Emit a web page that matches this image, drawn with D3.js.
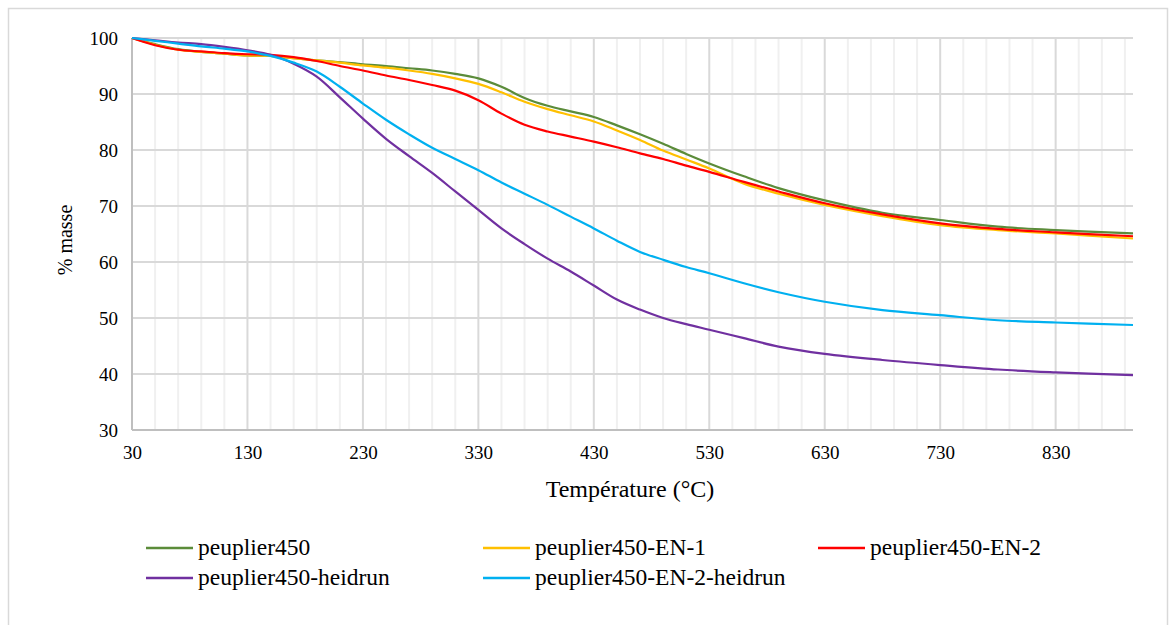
<!DOCTYPE html>
<html><head><meta charset="utf-8">
<script src="https://cdn.jsdelivr.net/npm/d3@7"></script>
<style>body{margin:0;background:#fff;} svg{display:block;}</style>
</head><body>
<svg id="c" width="1176" height="625"></svg>
<script>
const temps = [30,50,70,90,110,130,150,170,190,210,230,250,270,290,310,330,350,370,390,410,430,450,470,490,510,530,560,590,630,680,730,780,830,897];
const peuplier450 = [100,98.9,98.0,97.5,97.2,96.9,96.8,96.4,96.0,95.7,95.3,95.0,94.6,94.2,93.6,92.8,91.3,89.3,87.9,86.9,85.9,84.4,82.8,81.1,79.3,77.6,75.3,73.2,71.0,68.8,67.5,66.3,65.7,65.1];
const peuplier450EN1 = [100,98.8,97.9,97.5,97.2,96.9,96.8,96.4,96.0,95.6,95.1,94.7,94.2,93.6,92.8,91.8,90.3,88.6,87.3,86.2,85.1,83.5,81.8,79.9,78.3,76.7,74.0,72.2,70.2,68.2,66.6,65.7,65.1,64.2];
const peuplier450EN2 = [100,98.7,97.9,97.6,97.3,97.1,97.0,96.6,95.9,95.0,94.2,93.3,92.5,91.6,90.6,88.9,86.5,84.5,83.3,82.4,81.5,80.5,79.4,78.4,77.2,76.1,74.3,72.6,70.5,68.5,66.9,65.9,65.3,64.6];
const peuplier450Heidrun = [100,99.6,99.2,98.9,98.4,97.8,97.0,95.4,93.1,89.4,85.6,82.0,78.9,75.9,72.6,69.3,66.0,63.2,60.6,58.3,55.8,53.3,51.5,50.0,48.9,47.9,46.4,44.9,43.6,42.5,41.6,40.8,40.3,39.8];
const peuplier450EN2Heidrun = [100,99.5,99.0,98.5,98.1,97.6,96.8,95.6,94.0,91.3,88.3,85.4,82.8,80.4,78.4,76.4,74.2,72.2,70.2,68.1,66.0,63.8,61.8,60.4,59.1,58.0,56.2,54.6,52.9,51.4,50.5,49.6,49.2,48.75];
const seriesNames = ["peuplier450","peuplier450-EN-1","peuplier450-EN-2","peuplier450-heidrun","peuplier450-EN-2-heidrun"];
const seriesColors = ["#5B8C3A","#FFC000","#FF0000","#7030A0","#00B0F0"];
const xTicks = [30,130,230,330,430,530,630,730,830];
const yTicks = [30,40,50,60,70,80,90,100];

const seriesValues = [peuplier450, peuplier450EN1, peuplier450EN2, peuplier450Heidrun, peuplier450EN2Heidrun];
const svg = d3.select("#c");
const L=132, R=1133, T=38, B=430;
const x = d3.scaleLinear().domain([30,897]).range([L,R]);
const y = d3.scaleLinear().domain([30,100]).range([B,T]);
const font = "'Liberation Serif','Times New Roman',serif";

svg.append("rect").attr("x",8.5).attr("y",8.5).attr("width",1159).attr("height",640)
  .attr("fill","#fff").attr("stroke","#d9d9d9").attr("stroke-width",1.5);

const minor = d3.range(50,897,20).filter(v=>(v-30)%100!==0);
svg.append("g").selectAll("line").data(minor).join("line")
  .attr("x1",d=>x(d)).attr("x2",d=>x(d)).attr("y1",T).attr("y2",B)
  .attr("stroke","#f0f0f0").attr("stroke-width",2);
svg.append("g").selectAll("line").data(xTicks).join("line")
  .attr("x1",d=>x(d)).attr("x2",d=>x(d)).attr("y1",T).attr("y2",B)
  .attr("stroke","#d9d9d9").attr("stroke-width",2);
svg.append("g").selectAll("line").data(yTicks).join("line")
  .attr("x1",L).attr("x2",R).attr("y1",d=>y(d)).attr("y2",d=>y(d))
  .attr("stroke","#d9d9d9").attr("stroke-width",2);
svg.append("line").attr("x1",L).attr("x2",R).attr("y1",B).attr("y2",B).attr("stroke","#bfbfbf").attr("stroke-width",2);
svg.append("line").attr("x1",L).attr("x2",L).attr("y1",T).attr("y2",B).attr("stroke","#bfbfbf").attr("stroke-width",2);

const xa = svg.append("g").attr("transform",`translate(0,${B})`)
  .call(d3.axisBottom(x).tickValues(xTicks).tickSize(0).tickPadding(16).tickFormat(d3.format("d")));
xa.select(".domain").remove();
xa.selectAll("text").attr("font-family",font).attr("font-size",19).attr("fill","#000");
const ya = svg.append("g").attr("transform",`translate(${L},0)`)
  .call(d3.axisLeft(y).tickValues(yTicks).tickSize(0).tickPadding(14).tickFormat(d3.format("d")));
ya.select(".domain").remove();
ya.selectAll("text").attr("font-family",font).attr("font-size",19).attr("fill","#000");

svg.append("text").attr("x",630).attr("y",497).attr("text-anchor","middle")
  .attr("font-family",font).attr("font-size",24).text("Température (°C)");
svg.append("text").attr("transform","translate(72,240) rotate(-90)").attr("text-anchor","middle")
  .attr("font-family",font).attr("font-size",20).text("% masse");

const line = d3.line().x((d,i)=>x(temps[i])).y(d=>y(d)).curve(d3.curveCatmullRom.alpha(0.5));
svg.append("g").selectAll("path").data(seriesValues).join("path")
  .attr("d",d=>line(d)).attr("fill","none")
  .attr("stroke",(d,i)=>seriesColors[i]).attr("stroke-width",2.2);

const legPos = [[146,548],[483,548],[818,548],[146,578],[483,578]];
const lg = svg.append("g").selectAll("g").data(seriesNames).join("g")
  .attr("transform",(d,i)=>`translate(${legPos[i][0]},${legPos[i][1]})`);
lg.append("line").attr("x1",0).attr("x2",47).attr("stroke",(d,i)=>seriesColors[i]).attr("stroke-width",2.5);
lg.append("text").attr("x",52).attr("y",7).attr("font-family",font).attr("font-size",23.5).text(d=>d);
</script>
</body></html>
